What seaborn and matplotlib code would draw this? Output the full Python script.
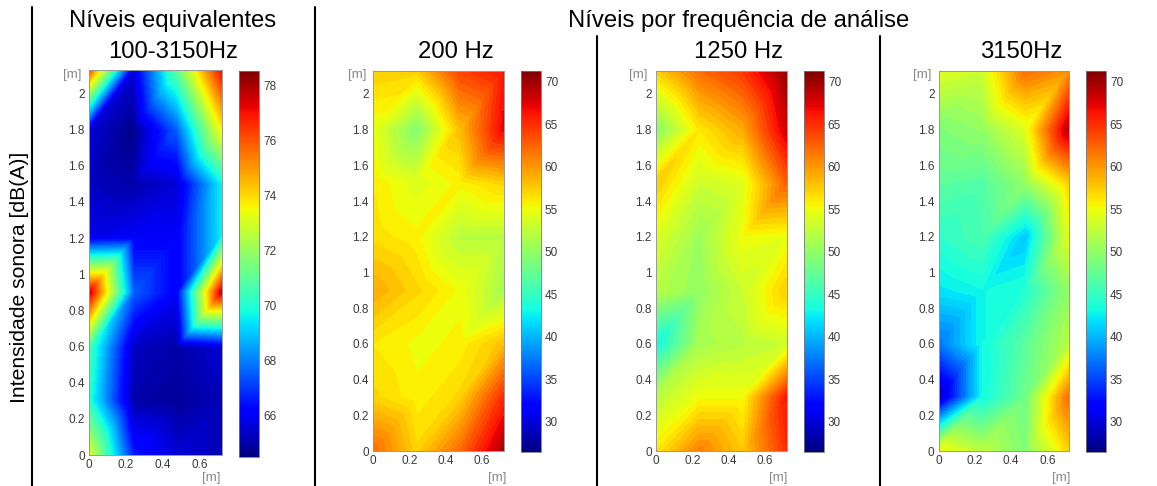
# Sound intensity maps: equivalent level plus three analysis frequencies
import numpy as np
import matplotlib
matplotlib.use('Agg')
import matplotlib.pyplot as plt
import matplotlib.tri as mtri
import seaborn as sns

# Measurement grid
x_pos = [0, 0.24, 0.48, 0.72]
y_pos = [0, 0.3, 0.6, 0.9, 1.2, 1.5, 1.8, 2.13]

# Levels, one row per y_pos value
levels_equiv = [
    [73.0, 66.5, 65.5, 65.2],
    [70.0, 65.0, 64.8, 65.2],
    [70.5, 65.3, 65.0, 65.5],
    [77.5, 67.5, 66.0, 77.5],
    [65.8, 66.0, 66.0, 69.5],
    [65.3, 65.0, 65.5, 69.5],
    [65.5, 64.6, 67.5, 73.5],
    [76.0, 65.5, 71.0, 77.0],
]
levels_200 = [
    [62.0, 57.0, 62.0, 69.5],
    [57.0, 55.5, 57.0, 65.0],
    [56.0, 55.0, 55.5, 58.0],
    [59.0, 57.0, 55.0, 51.0],
    [56.5, 55.5, 52.0, 52.0],
    [56.0, 54.0, 55.5, 57.0],
    [54.5, 49.0, 58.0, 67.0],
    [57.5, 57.0, 64.0, 66.0],
]
levels_1250 = [
    [56.0, 61.0, 57.5, 65.0],
    [52.0, 55.0, 55.0, 66.0],
    [42.5, 51.0, 52.0, 53.0],
    [52.0, 50.0, 53.0, 57.5],
    [54.0, 50.5, 55.0, 54.5],
    [57.5, 53.0, 54.0, 62.5],
    [49.0, 56.0, 59.0, 68.0],
    [57.0, 62.0, 64.5, 70.5],
]
levels_3150 = [
    [55.0, 52.0, 49.0, 57.0],
    [28.0, 43.0, 48.0, 62.0],
    [37.0, 43.0, 47.0, 52.0],
    [42.0, 43.0, 44.0, 50.0],
    [44.5, 46.0, 40.5, 54.0],
    [47.0, 46.5, 50.0, 57.0],
    [49.0, 50.0, 54.0, 69.0],
    [54.0, 53.0, 62.0, 60.0],
]

panel_titles = ['Níveis equivalentes\n100-3150Hz', '200 Hz', '1250 Hz', '3150Hz']
group_title = 'Níveis por frequência de análise'
y_label = 'Intensidade sonora [dB(A)]'

range_equiv = (64.47, 78.54)
range_freq = (26.4, 71.26)
ticks_equiv = [66, 68, 70, 72, 74, 76, 78]
ticks_freq = [30, 35, 40, 45, 50, 55, 60, 65, 70]
x_ticks = [0, 0.2, 0.4, 0.6]
y_ticks = [0, 0.2, 0.4, 0.6, 0.8, 1, 1.2, 1.4, 1.6, 1.8, 2]

sns.set_theme(style='white')
plt.rcParams['font.family'] = ['Liberation Sans', 'DejaVu Sans']
jet = matplotlib.colormaps['jet']  # seaborn refuses to build this one itself

W, H = 1157, 486
fig = plt.figure(figsize=(W / 100, H / 100), dpi=100)

# Every grid cell is split along its lower-left to upper-right diagonal
nx, ny = len(x_pos), len(y_pos)
gx, gy = np.meshgrid(x_pos, y_pos)
cells = []
for j in range(ny - 1):
    for i in range(nx - 1):
        a = j * nx + i
        cells.append([a, a + 1, a + nx + 1])
        cells.append([a, a + nx + 1, a + nx])
grid_tri = mtri.Triangulation(gx.ravel(), gy.ravel(), cells)


def px_axes(left, right, top, bottom):
    return fig.add_axes([left / W, 1 - bottom / H, (right - left) / W, (bottom - top) / H])


def px_text(x, y, s, **kw):
    kw.setdefault('ha', 'center')
    kw.setdefault('va', 'center')
    fig.text(x / W, 1 - y / H, s, **kw)


def draw_panel(z, vrange, cticks, ax_box, cbar_box, n_levels):
    ax = px_axes(*ax_box)
    lev = np.linspace(vrange[0], vrange[1], n_levels)
    cs = ax.tricontourf(grid_tri, np.ravel(z), levels=lev, cmap=jet, extend='both')
    cs.set_edgecolor('face')
    ax.set_xlim(0, 0.72)
    ax.set_ylim(0, 2.13)
    ax.set_xticks(x_ticks)
    ax.set_xticklabels([f'{v:g}' for v in x_ticks])
    ax.set_yticks(y_ticks)
    ax.set_yticklabels([f'{v:g}' for v in y_ticks])
    ax.tick_params(length=0, labelsize=8.5, labelcolor='#3a3a3a', pad=3)
    for s in ax.spines.values():
        s.set_color('#999999')
        s.set_linewidth(0.7)

    cax = px_axes(*cbar_box)
    sm = plt.cm.ScalarMappable(norm=plt.Normalize(*vrange), cmap=jet)
    cb = fig.colorbar(sm, cax=cax)
    cb.set_ticks(cticks)
    cb.ax.tick_params(direction='in', length=2, width=0.6, color='#555555', left=True, right=True,
                      labelsize=8.5, labelcolor='#3a3a3a', pad=3)
    cb.outline.set_edgecolor('#777777')
    cb.outline.set_linewidth(0.6)


draw_panel(levels_equiv, range_equiv, ticks_equiv, (89, 221.7, 70, 455), (239, 259.3, 71, 457), 120)
draw_panel(levels_200, range_freq, ticks_freq, (373, 503.7, 70.7, 451), (520.7, 540.7, 71, 452.3), 60)
draw_panel(levels_1250, range_freq, ticks_freq, (656, 786.7, 70.7, 451), (803.7, 823.7, 71, 452.3), 60)
draw_panel(levels_3150, range_freq, ticks_freq, (938.7, 1069, 70.7, 451), (1085.7, 1105.7, 71, 452.3), 60)

# Titles
px_text(173, 21, panel_titles[0].split('\n')[0], fontsize=17.2, color='black')
px_text(173, 52, panel_titles[0].split('\n')[1], fontsize=17.2, color='black')
px_text(455.7, 52, panel_titles[1], fontsize=17.2, color='black')
px_text(739, 52, panel_titles[2], fontsize=17.2, color='black')
px_text(1021, 52, panel_titles[3], fontsize=17.2, color='black')
px_text(738.7, 21, group_title, fontsize=17.2, color='black')
px_text(20, 277, y_label, fontsize=15.2, rotation=90, color='black')

# Axis unit labels
for ux, rx in [(72, 211), (357, 497), (638, 778), (922, 1061)]:
    px_text(ux, 75, '[m]', fontsize=9.5, color='#888888')
    px_text(rx, 478, '[m]', fontsize=9.5, color='#888888')

# Vertical separators
for sx, top in [(32, 7), (315, 7), (597, 36), (880, 36)]:
    fig.add_artist(plt.Line2D([sx / W, sx / W], [1 - top / H, 0], color='black', linewidth=1.5))

plt.savefig('out.png', dpi=100)
